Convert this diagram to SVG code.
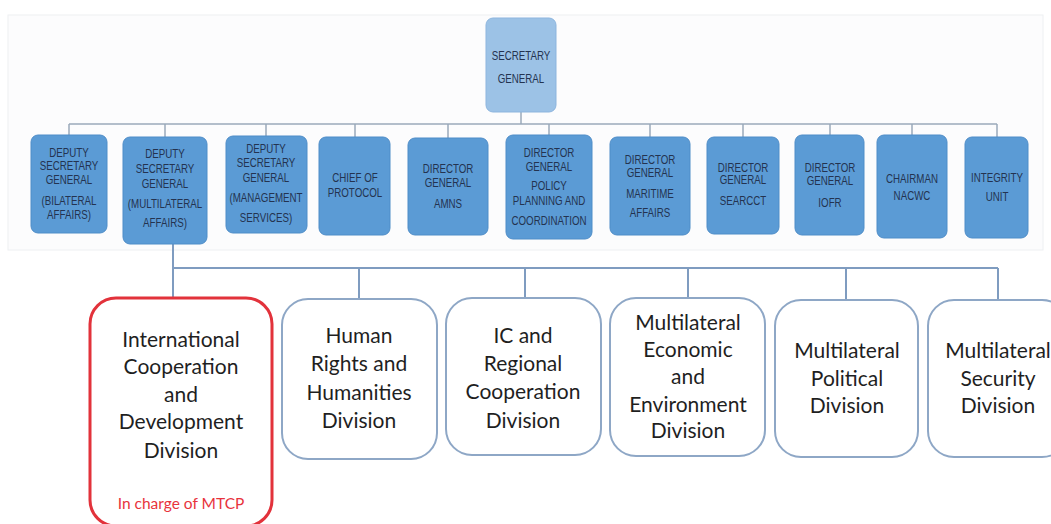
<svg xmlns="http://www.w3.org/2000/svg" width="1051" height="524" viewBox="0 0 1051 524">
<style>
.bg{fill:#fcfcfd;stroke:#eef0f2;stroke-width:1}
.top{fill:#5b9bd5;stroke:#4f8dc8;stroke-width:1}
.sg{fill:#9cc2e6;stroke:#8db5de;stroke-width:1}
.t{font-family:"Liberation Sans",Arial,sans-serif;font-size:13px;fill:#243350;text-anchor:middle}
.div{fill:#ffffff;stroke:#8ea7c6;stroke-width:2}
.red{fill:#ffffff;stroke:#e2323b;stroke-width:3}
.d{font-family:Lato,"Open Sans",sans-serif;font-size:21px;fill:#1f1f1f;text-anchor:middle}
.m{font-family:Lato,"Open Sans",sans-serif;font-size:15.5px;fill:#e8333c;text-anchor:middle}
.c1{stroke:#9aa9ba;stroke-width:1.5;fill:none}
.c2{stroke:#7f9cc0;stroke-width:2;fill:none}
</style>
<rect class="bg" x="8" y="15" width="1035" height="235"/>
<g id="connectors">
<path class="c1" d="M521 112V124M69 124H997M69 124V135M165 124V137M266 124V136M355 124V137M448 124V138M549 124V135M650 124V137M743 124V137M830 124V135M912 124V135M997 124V137"/>
<path class="c2" d="M173 244V298M173 268H998M359 268V299M525 268V298M688 268V298M846 268V300M998 268V300"/>
</g>
<g id="sg"><rect class="sg" x="486" y="18" width="70" height="94" rx="7"/>
<g transform="translate(521,0) scale(0.75,1)"><text class="t" x="0" y="60">SECRETARY</text><text class="t" x="0" y="83">GENERAL</text></g></g>
<g id="dsg-bilateral"><rect class="top" x="31" y="135" width="76" height="98" rx="7"/>
<g transform="translate(69,0) scale(0.75,1)"><text class="t" x="0" y="157">DEPUTY</text><text class="t" x="0" y="170">SECRETARY</text><text class="t" x="0" y="184">GENERAL</text><text class="t" x="0" y="205">(BILATERAL</text><text class="t" x="0" y="219">AFFAIRS)</text></g></g>
<g id="dsg-multilateral"><rect class="top" x="123" y="137" width="84" height="107" rx="7"/>
<g transform="translate(165,0) scale(0.75,1)"><text class="t" x="0" y="158">DEPUTY</text><text class="t" x="0" y="173">SECRETARY</text><text class="t" x="0" y="188">GENERAL</text><text class="t" x="0" y="208">(MULTILATERAL</text><text class="t" x="0" y="227">AFFAIRS)</text></g></g>
<g id="dsg-management"><rect class="top" x="226" y="136" width="81" height="97" rx="7"/>
<g transform="translate(266,0) scale(0.75,1)"><text class="t" x="0" y="153">DEPUTY</text><text class="t" x="0" y="167">SECRETARY</text><text class="t" x="0" y="182">GENERAL</text><text class="t" x="0" y="202">(MANAGEMENT</text><text class="t" x="0" y="222">SERVICES)</text></g></g>
<g id="chief-protocol"><rect class="top" x="319" y="137" width="71" height="98" rx="7"/>
<g transform="translate(355,0) scale(0.75,1)"><text class="t" x="0" y="182">CHIEF OF</text><text class="t" x="0" y="197">PROTOCOL</text></g></g>
<g id="dg-amns"><rect class="top" x="408" y="138" width="80" height="97" rx="7"/>
<g transform="translate(448,0) scale(0.75,1)"><text class="t" x="0" y="173">DIRECTOR</text><text class="t" x="0" y="187">GENERAL</text><text class="t" x="0" y="208">AMNS</text></g></g>
<g id="dg-policy"><rect class="top" x="506" y="135" width="86" height="104" rx="7"/>
<g transform="translate(549,0) scale(0.75,1)"><text class="t" x="0" y="157">DIRECTOR</text><text class="t" x="0" y="171">GENERAL</text><text class="t" x="0" y="190">POLICY</text><text class="t" x="0" y="205">PLANNING AND</text><text class="t" x="0" y="225">COORDINATION</text></g></g>
<g id="dg-maritime"><rect class="top" x="610" y="137" width="80" height="98" rx="7"/>
<g transform="translate(650,0) scale(0.75,1)"><text class="t" x="0" y="164">DIRECTOR</text><text class="t" x="0" y="177">GENERAL</text><text class="t" x="0" y="198">MARITIME</text><text class="t" x="0" y="217">AFFAIRS</text></g></g>
<g id="dg-searcct"><rect class="top" x="707" y="137" width="72" height="97" rx="7"/>
<g transform="translate(743,0) scale(0.75,1)"><text class="t" x="0" y="172">DIRECTOR</text><text class="t" x="0" y="184">GENERAL</text><text class="t" x="0" y="205">SEARCCT</text></g></g>
<g id="dg-iofr"><rect class="top" x="795" y="135" width="69" height="100" rx="7"/>
<g transform="translate(830,0) scale(0.75,1)"><text class="t" x="0" y="172">DIRECTOR</text><text class="t" x="0" y="185">GENERAL</text><text class="t" x="0" y="207">IOFR</text></g></g>
<g id="chairman-nacwc"><rect class="top" x="877" y="135" width="70" height="103" rx="7"/>
<g transform="translate(912,0) scale(0.75,1)"><text class="t" x="0" y="183">CHAIRMAN</text><text class="t" x="0" y="200">NACWC</text></g></g>
<g id="integrity-unit"><rect class="top" x="965" y="137" width="63" height="101" rx="7"/>
<g transform="translate(997,0) scale(0.75,1)"><text class="t" x="0" y="182">INTEGRITY</text><text class="t" x="0" y="201">UNIT</text></g></g>
<g id="icdd"><rect class="red" x="90" y="298" width="182" height="228" rx="26"/>
<text class="d" x="181" y="347">International</text><text class="d" x="181" y="374">Cooperation</text><text class="d" x="181" y="402">and</text><text class="d" x="181" y="429">Development</text><text class="d" x="181" y="458">Division</text>
<text class="m" x="181" y="509">In charge of MTCP</text></g>
<g id="hrhd"><rect class="div" x="282" y="299" width="155" height="160" rx="26"/>
<text class="d" x="359" y="343">Human</text><text class="d" x="359" y="371">Rights and</text><text class="d" x="359" y="400">Humanities</text><text class="d" x="359" y="428">Division</text></g>
<g id="icrcd"><rect class="div" x="446" y="298" width="155" height="157" rx="26"/>
<text class="d" x="523" y="343">IC and</text><text class="d" x="523" y="371">Regional</text><text class="d" x="523" y="399">Cooperation</text><text class="d" x="523" y="428">Division</text></g>
<g id="meed"><rect class="div" x="610" y="298" width="155" height="158" rx="26"/>
<text class="d" x="688" y="330">Multilateral</text><text class="d" x="688" y="357">Economic</text><text class="d" x="688" y="384">and</text><text class="d" x="688" y="412">Environment</text><text class="d" x="688" y="438">Division</text></g>
<g id="mpd"><rect class="div" x="775" y="300" width="143" height="157" rx="26"/>
<text class="d" x="847" y="358">Multilateral</text><text class="d" x="847" y="386">Political</text><text class="d" x="847" y="413">Division</text></g>
<g id="msd"><rect class="div" x="928" y="300" width="140" height="157" rx="26"/>
<text class="d" x="998" y="358">Multilateral</text><text class="d" x="998" y="386">Security</text><text class="d" x="998" y="413">Division</text></g>
</svg>
